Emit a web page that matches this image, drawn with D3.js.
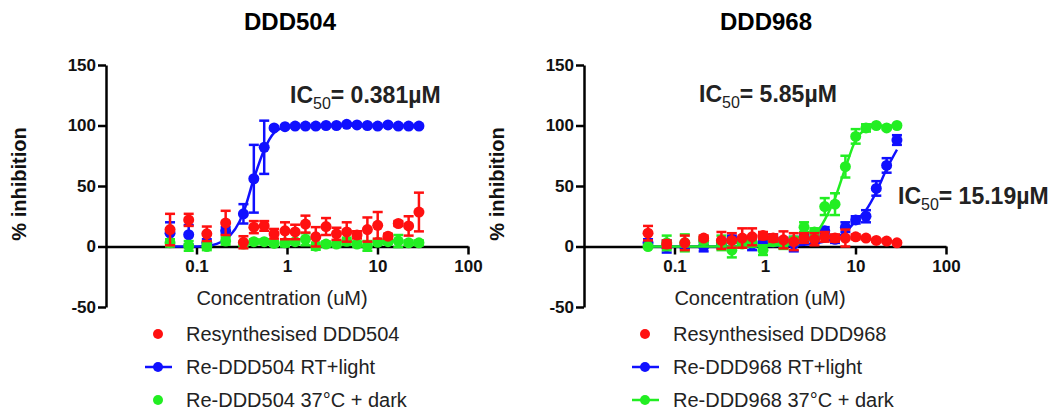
<!DOCTYPE html>
<html>
<head>
<meta charset="utf-8">
<script src="https://cdn.jsdelivr.net/npm/d3@7"></script>
<style>
    body { margin: 0; background: #fff; }
    svg { font-family: "Liberation Sans", Arial, sans-serif; }
</style>
</head>
<body>
<div id="chart-area"></div>
<script>
// dilution series (uM), same for both compounds
var conc = [0.051, 0.082, 0.13, 0.21, 0.33, 0.43, 0.56, 0.72, 0.95, 1.23, 1.6,
            2.08, 2.7, 3.52, 4.57, 5.94, 7.73, 10.05, 13.06, 16.98, 22.08, 28.7];
var xTicks = [0.1, 1, 10, 100];
var yTicks = [-50, 0, 50, 100, 150];

// DDD504
var red504 = [14, 22, 10.5, 19.5, 3.5, 16, 17, 10.5, 13, 12, 18.5, 8, 16.5, 10.5, 12, 9.6, 14, 17.5, 8.5, 19, 17, 28.5];
var red504Err = [13, 5, 6, 10, 5, 5, 4, 4, 7, 6, 7, 8, 7, 5, 8, 3, 10, 11, 2, 2, 8, 16];
var blue504 = [11, 9.7, 3, 13, 27, 56, 82, 98, 99, 99.5, 99.5, 99.5, 100, 100, 101, 100.5, 100, 99.5, 100.5, 99.5, 99.5, 99.5];
var blue504Err = [9, 8, 3, 3, 8, 28, 22, 1, 1, 1, 1, 1, 1, 1, 1, 1, 1, 1, 1, 1, 1, 1];
var blue504Fit = [0, 0, 0.5, 6, 28, 56, 80, 94, 98.5, 99.5, 100, 100, 100, 100, 100, 100, 100, 100, 100, 100, 100, 100];
var green504 = [3, 0.5, 0, 4.5, 2, 4, 4, 2.5, 3, 4, 6, 0.3, 2, 2, 4.3, 2, 0.5, 3.5, 4, 4.5, 3, 3];
var green504Err = [3, 4, 3, 3, 2, 2, 2, 2, 3, 2, 5, 3, 2, 2, 3, 2, 4, 2, 2, 5, 2, 2];

// DDD968
var red968 = [11, 2, 3, 7, 5, 5, 7, 8, 9, 7, 5.5, 4, 7, 6, 8, 7, 7, 8, 7, 5, 4.5, 3];
var red968Err = [6, 3, 6, 2, 7, 6, 8, 7, 3, 3, 7, 7, 4, 5, 4, 3, 7, 2, 1, 1, 1, 1];
var blue968 = [3, 0, 0, 0, 2, 6, 4, 2, 4, 6, 3, 2, 7, 6, 13, 6, 16, 22, 25, 48, 67, 88];
var blue968Err = [3, 5, 2, 4, 3, 3, 3, 5, 3, 4, 4, 6, 3, 3, 3, 3, 4, 3, 5, 6, 6, 4];
var blue968Fit = [0, 0, 0, 0, 0, 0, 0, 0, 0.3, 0.5, 0.8, 1, 1.5, 2.5, 4, 7, 12, 21, 30, 45, 64, 80];
var green968 = [0, 3, 3, 5, 3, -3, 2, 3, -3, 4, 2, 5, 16, 12, 33, 35, 66, 91, 98, 100, 98, 100];
var green968Err = [1, 6, 7, 3, 6, 6, 3, 3, 4, 3, 4, 3, 4, 3, 7, 9, 9, 6, 3, 1, 1, 1];
var green968Fit = [0, 0, 0, 0, 0, 0, 0, 0.3, 0.5, 1, 1.5, 2.5, 4, 9, 22, 40, 65, 88, 97, 99.5, 100, 100];

var RED = "#ff1010", BLUE = "#1010ff", GREEN = "#22ee22";

var svg = d3.select("#chart-area")
    .append("svg")
        .attr("width", 1057)
        .attr("height", 413);

var panels = [
    {
        title: "DDD504", left: 106, right: 468, legendX: 158, titleX: 290,
        series: [
            { name: "Re-DDD504 RT+light", color: BLUE, values: blue504, err: blue504Err, fit: blue504Fit },
            { name: "Re-DDD504 37°C + dark", color: GREEN, values: green504, err: green504Err, fit: null },
            { name: "Resynthesised DDD504", color: RED, values: red504, err: red504Err, fit: null }
        ],
        legend: [2, 0, 1],
        ic50: [{ x: 290, y: 103, value: "= 0.381µM" }]
    },
    {
        title: "DDD968", left: 584, right: 946, legendX: 645, titleX: 766,
        series: [
            { name: "Re-DDD968 RT+light", color: BLUE, values: blue968, err: blue968Err, fit: blue968Fit },
            { name: "Re-DDD968 37°C + dark", color: GREEN, values: green968, err: green968Err, fit: green968Fit },
            { name: "Resynthesised DDD968", color: RED, values: red968, err: red968Err, fit: null }
        ],
        legend: [2, 0, 1],
        ic50: [{ x: 699, y: 102, value: "= 5.85µM" }, { x: 898, y: 204, value: "= 15.19µM" }]
    }
];

var y = d3.scaleLinear().domain([-50, 150]).range([307, 65]);

panels.forEach(function(p) {
    var g = svg.append("g");
    var x = d3.scaleLog().domain([0.01, 100]).range([p.left, p.right]);
    var mid = (p.left + p.right) / 2;

    // title
    g.append("text")
        .attr("x", p.titleX)
        .attr("y", 30)
        .attr("text-anchor", "middle")
        .attr("font-size", "24px")
        .attr("font-weight", "bold")
        .text(p.title);

    // Y axis
    var yAxis = g.append("g")
        .attr("transform", "translate(" + p.left + ",0)")
        .call(d3.axisLeft(y).tickValues(yTicks).tickSize(8).tickSizeOuter(0).tickPadding(2)
            .tickFormat(function(d){ return String(d); }));

    // X axis at y = 0
    var xAxis = g.append("g")
        .attr("transform", "translate(0," + y(0) + ")")
        .call(d3.axisBottom(x).tickValues(xTicks).tickSize(8).tickSizeOuter(0).tickPadding(5)
            .tickFormat(function(d){ return String(d); }));

    [yAxis, xAxis].forEach(function(a) {
        a.select(".domain").attr("stroke", "#000").attr("stroke-width", 2.5);
        a.selectAll(".tick line").attr("stroke", "#000").attr("stroke-width", 2.5);
        a.selectAll(".tick text")
            .attr("fill", "#111")
            .attr("font-size", "17px")
            .attr("font-weight", "bold")
            .attr("font-family", "Liberation Sans, Arial, sans-serif");
    });

    // axis labels
    g.append("text")
        .attr("x", mid - 5)
        .attr("y", 305)
        .attr("text-anchor", "middle")
        .attr("font-size", "20px")
        .attr("fill", "#222")
        .text("Concentration (uM)");

    g.append("text")
        .attr("transform", "translate(" + (p.left - 80) + ",184) rotate(-90)")
        .attr("text-anchor", "middle")
        .attr("font-size", "20px")
        .attr("font-weight", "bold")
        .attr("fill", "#111")
        .text("% inhibition");

    var line = d3.line()
        .x(function(d){ return x(d.c); })
        .y(function(d){ return y(d.v); })
        .curve(d3.curveMonotoneX);

    p.series.forEach(function(s) {
        var pts = conc.map(function(c, i){ return { c: c, v: s.values[i], e: s.err[i] }; });
        var sg = g.append("g");

        if (s.fit) {
            sg.append("path")
                .datum(conc.map(function(c, i){ return { c: c, v: s.fit[i] }; }))
                .attr("fill", "none")
                .attr("stroke", s.color)
                .attr("stroke-width", 2.5)
                .attr("d", line);
        }

        var eb = sg.selectAll(".err")
            .data(pts)
            .enter()
            .append("g")
                .attr("stroke", s.color)
                .attr("stroke-width", 2.5);
        eb.append("line")
            .attr("x1", function(d){ return x(d.c); })
            .attr("x2", function(d){ return x(d.c); })
            .attr("y1", function(d){ return y(d.v - d.e); })
            .attr("y2", function(d){ return y(d.v + d.e); });
        eb.append("line")
            .attr("x1", function(d){ return x(d.c) - 5; })
            .attr("x2", function(d){ return x(d.c) + 5; })
            .attr("y1", function(d){ return y(d.v + d.e); })
            .attr("y2", function(d){ return y(d.v + d.e); });
        eb.append("line")
            .attr("x1", function(d){ return x(d.c) - 5; })
            .attr("x2", function(d){ return x(d.c) + 5; })
            .attr("y1", function(d){ return y(d.v - d.e); })
            .attr("y2", function(d){ return y(d.v - d.e); });

        sg.selectAll("circle")
            .data(pts)
            .enter()
            .append("circle")
                .attr("cx", function(d){ return x(d.c); })
                .attr("cy", function(d){ return y(d.v); })
                .attr("r", 5.5)
                .attr("fill", s.color);
    });

    // IC50 labels
    p.ic50.forEach(function(l) {
        var t = g.append("text")
            .attr("x", l.x)
            .attr("y", l.y)
            .attr("font-size", "23px")
            .attr("font-weight", "bold")
            .attr("fill", "#222");
        t.append("tspan").text("IC");
        t.append("tspan").attr("font-size", "16px").attr("dy", 6).attr("font-weight", "normal").text("50");
        t.append("tspan").attr("dy", -6).text(l.value);
    });

    // legend
    p.legend.forEach(function(idx, row) {
        var s = p.series[idx];
        var ly = 334 + row * 33;
        if (s.fit) {
            g.append("line")
                .attr("x1", p.legendX - 13)
                .attr("x2", p.legendX + 14)
                .attr("y1", ly)
                .attr("y2", ly)
                .attr("stroke", s.color)
                .attr("stroke-width", 2.5);
        }
        g.append("circle")
            .attr("cx", p.legendX)
            .attr("cy", ly)
            .attr("r", 5)
            .attr("fill", s.color);
        g.append("text")
            .attr("x", p.legendX + 28)
            .attr("y", ly + 7)
            .attr("font-size", "20px")
            .attr("fill", "#222")
            .text(s.name);
    });
});
</script>
</body>
</html>
